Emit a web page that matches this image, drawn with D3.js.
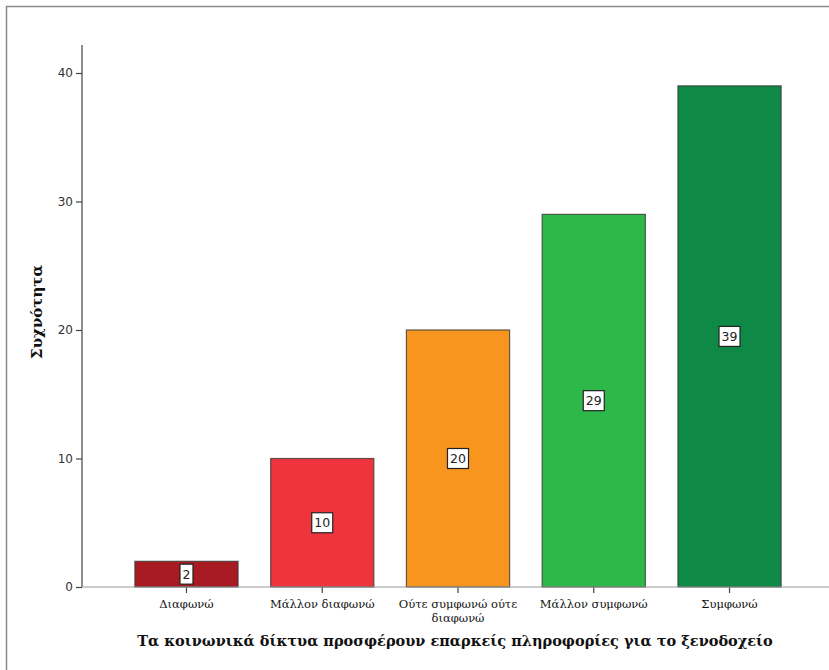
<!DOCTYPE html>
<html>
<head>
<meta charset="utf-8">
<script src="https://cdn.jsdelivr.net/npm/d3@7"></script>
<style>
  html, body { margin: 0; padding: 0; background: #fff; }
  svg { display: block; }
</style>
</head>
<body>
<svg id="chart" width="829" height="670"></svg>
<script>
// Response categories, counts and bar colours
const categories = ["Διαφωνώ", "Μάλλον διαφωνώ", "Ούτε συμφωνώ ούτε διαφωνώ", "Μάλλον συμφωνώ", "Συμφωνώ"];
const categoryLines = [["Διαφωνώ"], ["Μάλλον διαφωνώ"], ["Ούτε συμφωνώ ούτε", "διαφωνώ"], ["Μάλλον συμφωνώ"], ["Συμφωνώ"]];
const counts = [2, 10, 20, 29, 39];
const barColors = ["#a91b22", "#ee343d", "#f7951e", "#2fb84a", "#0f8a46"];
const yTicks = [0, 10, 20, 30, 40];
const xTitle = "Τα κοινωνικά δίκτυα προσφέρουν επαρκείς πληροφορίες για το ξενοδοχείο";
const yTitle = "Συχνότητα";

const serif = "'DejaVu Serif', 'Liberation Serif', serif";
const svg = d3.select("#chart");

// Outer frame
svg.append("path")
  .attr("d", "M6.5,670 V6.5 H829")
  .attr("fill", "none")
  .attr("stroke", "#8a8a8a")
  .attr("stroke-width", 1.5);

const axisX = 82, axisTop = 45, baseY = 587;

const x = d3.scaleBand()
  .domain(categories)
  .range([118.6, 797.4])
  .paddingInner(0.24)
  .paddingOuter(0.12);

const y = d3.scaleLinear()
  .domain([0, 40])
  .range([baseY, 73]);

// Y axis
const yAxis = svg.append("g")
  .attr("transform", `translate(${axisX},0)`)
  .call(d3.axisLeft(y).tickValues(yTicks).tickSize(6).tickPadding(3).tickFormat(d3.format("d")));
yAxis.select(".domain").remove();
yAxis.append("line")
  .attr("x1", 0).attr("x2", 0)
  .attr("y1", axisTop).attr("y2", baseY)
  .attr("stroke", "#444").attr("stroke-width", 1.2);
yAxis.selectAll(".tick line").attr("stroke", "#444").attr("stroke-width", 1.2);
yAxis.selectAll(".tick text")
  .attr("font-family", "'DejaVu Sans', sans-serif")
  .attr("font-size", 12)
  .attr("fill", "#333");

// Bars
svg.append("g").selectAll("rect")
  .data(categories)
  .join("rect")
  .attr("x", d => x(d))
  .attr("y", (d, i) => y(counts[i]))
  .attr("width", x.bandwidth())
  .attr("height", (d, i) => baseY - y(counts[i]))
  .attr("fill", (d, i) => barColors[i])
  .attr("stroke", "#3a3a3a")
  .attr("stroke-opacity", 0.8)
  .attr("stroke-width", 1.2);

// X axis baseline and ticks
const xAxis = svg.append("g")
  .attr("transform", `translate(0,${baseY})`)
  .call(d3.axisBottom(x).tickSize(6).tickFormat(""));
xAxis.select(".domain").remove();
xAxis.selectAll(".tick line").attr("stroke", "#444").attr("stroke-width", 1.2);
svg.append("line")
  .attr("x1", axisX).attr("x2", 829)
  .attr("y1", baseY).attr("y2", baseY)
  .attr("stroke", "#999").attr("stroke-width", 1.2);

// Category labels (wrapped)
const catG = svg.append("g");
categories.forEach((c, i) => {
  const t = catG.append("text")
    .attr("x", x(c) + x.bandwidth() / 2)
    .attr("y", 608)
    .attr("text-anchor", "middle")
    .attr("font-family", serif)
    .attr("font-size", 11.5)
    .attr("fill", "#111");
  categoryLines[i].forEach((line, k) => {
    t.append("tspan")
      .attr("x", x(c) + x.bandwidth() / 2)
      .attr("dy", k === 0 ? 0 : 14)
      .text(line);
  });
});

// Value labels in boxed tags at bar mid-height
const lab = svg.append("g").selectAll("g")
  .data(categories)
  .join("g")
  .attr("transform", (d, i) => `translate(${x(d) + x.bandwidth() / 2},${(y(counts[i]) + baseY) / 2})`);
lab.each(function (d, i) {
  const g = d3.select(this);
  const txt = String(counts[i]);
  const w = txt.length * 8 + 5;
  g.append("rect")
    .attr("x", -w / 2).attr("y", -10)
    .attr("width", w).attr("height", 20)
    .attr("fill", "#fff")
    .attr("stroke", "#222").attr("stroke-width", 1.2);
  g.append("text")
    .attr("text-anchor", "middle")
    .attr("dy", "0.36em")
    .attr("font-family", "'DejaVu Sans', sans-serif")
    .attr("font-size", 12.5)
    .attr("fill", "#222")
    .text(txt);
});

// Axis titles
svg.append("text")
  .attr("x", 455).attr("y", 646)
  .attr("text-anchor", "middle")
  .attr("font-family", serif)
  .attr("font-weight", "bold")
  .attr("font-size", 14.5)
  .attr("fill", "#111")
  .text(xTitle);

svg.append("text")
  .attr("transform", "translate(42,312) rotate(-90)")
  .attr("text-anchor", "middle")
  .attr("font-family", serif)
  .attr("font-weight", "bold")
  .attr("font-size", 15)
  .attr("fill", "#111")
  .text(yTitle);
</script>
</body>
</html>
